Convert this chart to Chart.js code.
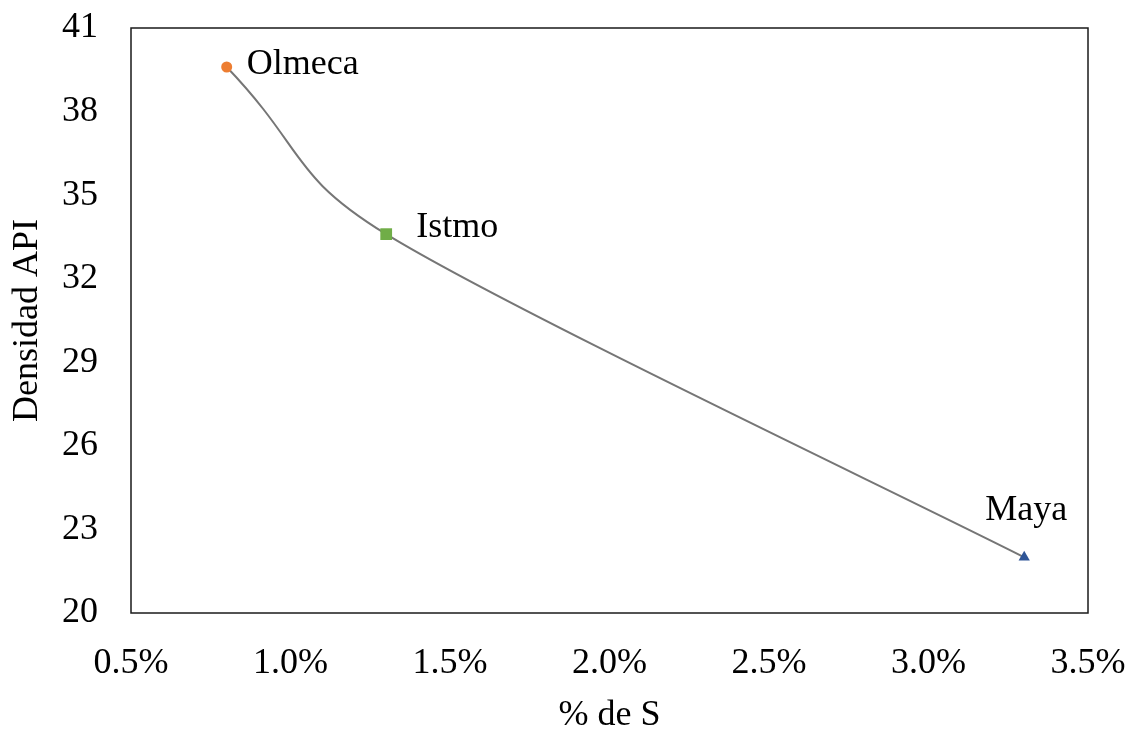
<!DOCTYPE html>
<html>
<head>
<meta charset="utf-8">
<title>Densidad API vs % de S</title>
<script src="https://cdn.jsdelivr.net/npm/chart.js@4.4.1/dist/chart.umd.min.js"></script>
<style>
  html, body { margin: 0; padding: 0; background: #fff; }
  canvas { display: block; }
</style>
</head>
<body>
<canvas id="grafica" width="1131" height="733"></canvas>
<script>
// Crudos mexicanos: contenido de azufre vs densidad API
const crudos = ['Olmeca', 'Istmo', 'Maya'];
const azufre = [0.8, 1.3, 3.3];          // % de S
const densidadApi = [39.6, 33.6, 22.0];   // grados API
const ticksX = [0.5, 1.0, 1.5, 2.0, 2.5, 3.0, 3.5];
const ticksY = [20, 23, 26, 29, 32, 35, 38, 41];

const fuente = 'Liberation Serif, Times New Roman, serif';
const gris = '#767676';
const puntos = azufre.map((x, i) => ({ x: x, y: densidadApi[i] }));

// Marco negro alrededor del area de trazado
const marco = {
    id: 'marco',
    afterDraw(chart) {
        const { ctx, chartArea: a } = chart;
        ctx.save();
        ctx.strokeStyle = '#1a1a1a';
        ctx.lineWidth = 1.5;
        ctx.strokeRect(a.left, a.top, a.right - a.left, a.bottom - a.top);
        ctx.restore();
    }
};

// Etiquetas de datos con el nombre de cada crudo
const etiquetas = {
    id: 'etiquetas',
    afterDatasetsDraw(chart, args, opts) {
        const { ctx } = chart;
        const meta = chart.getDatasetMeta(0);
        ctx.save();
        ctx.font = '36px ' + fuente;
        ctx.fillStyle = '#000';
        meta.data.forEach((pt, i) => {
            const p = opts.lugar[i];
            if (p.pos === 'arriba') {
                ctx.textAlign = 'center';
                ctx.textBaseline = 'alphabetic';
            } else {
                ctx.textAlign = 'left';
                ctx.textBaseline = 'middle';
            }
            ctx.fillText(crudos[i], pt.x + p.dx, pt.y + p.dy);
        });
        ctx.restore();
    }
};

new Chart(document.getElementById('grafica'), {
    type: 'scatter',
    data: {
        datasets: [{
            // tramo Olmeca - Istmo (curvo) y marcadores
            data: puntos,
            showLine: true,
            borderColor: gris,
            borderWidth: 2,
            tension: 0.5,
            segment: { borderColor: c => c.p0DataIndex === 0 ? gris : 'transparent' },
            pointStyle: ['circle', 'rect', 'triangle'],
            pointRadius: [5.5, 8.3, 6.5],
            pointBackgroundColor: ['#ED7D31', '#70AD47', '#2F5597'],
            pointBorderWidth: 0
        }, {
            // tramo Istmo - Maya (casi recto)
            data: puntos,
            showLine: true,
            borderColor: gris,
            borderWidth: 2,
            tension: 0.2,
            segment: { borderColor: c => c.p0DataIndex === 0 ? 'transparent' : gris },
            pointRadius: 0
        }]
    },
    options: {
        responsive: false,
        animation: false,
        devicePixelRatio: 1,
        layout: { padding: { top: 28, right: 43, left: 0, bottom: 0 } },
        plugins: {
            legend: { display: false },
            tooltip: { enabled: false },
            etiquetas: {
                lugar: [
                    { pos: 'derecha', dx: 20, dy: -2 },
                    { pos: 'derecha', dx: 30, dy: -7 },
                    { pos: 'arriba', dx: 2, dy: -37 }
                ]
            }
        },
        scales: {
            x: {
                type: 'linear',
                min: 0.5,
                max: 3.5,
                grid: { display: false, drawTicks: false },
                border: { display: false },
                afterBuildTicks: scale => { scale.ticks = ticksX.map(v => ({ value: v })); },
                afterFit: scale => {
                    scale.height = 120;
                    scale.paddingLeft = 0;
                    scale.paddingRight = 0;
                },
                ticks: {
                    padding: 29,
                    color: '#000',
                    font: { family: fuente, size: 36 },
                    maxRotation: 0,
                    callback: v => v.toFixed(1) + '%'
                },
                title: {
                    display: true,
                    text: '% de S',
                    color: '#000',
                    font: { family: fuente, size: 36, lineHeight: 0.9 },
                    padding: { top: 0, bottom: 1 }
                }
            },
            y: {
                type: 'linear',
                min: 20,
                max: 41,
                grid: { display: false, drawTicks: false },
                border: { display: false },
                afterBuildTicks: scale => { scale.ticks = ticksY.map(v => ({ value: v })); },
                afterFit: scale => {
                    scale.width = 131;
                    scale.paddingTop = 0;
                    scale.paddingBottom = 0;
                },
                ticks: {
                    padding: 33,
                    color: '#000',
                    font: { family: fuente, size: 36 }
                },
                title: {
                    display: true,
                    text: 'Densidad API',
                    color: '#000',
                    font: { family: fuente, size: 36 },
                    padding: { top: 6.4, bottom: 0 }
                }
            }
        }
    },
    plugins: [marco, etiquetas]
});
</script>
</body>
</html>
